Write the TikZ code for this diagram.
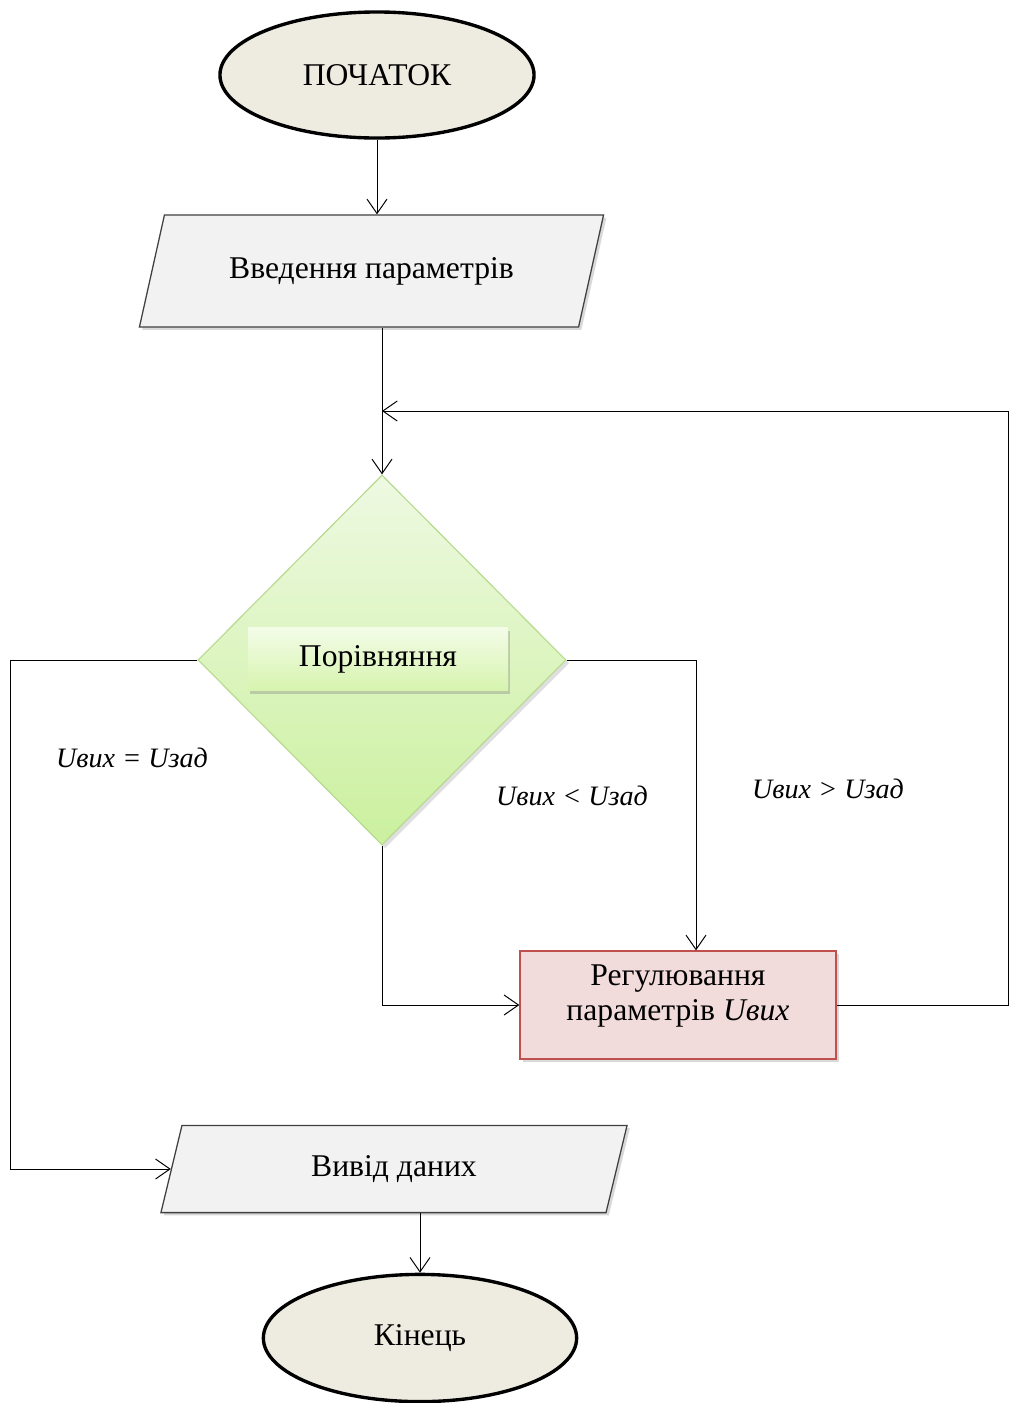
\documentclass[tikz,border=0pt]{standalone}
\usepackage{fontspec}
\setmainfont{Liberation Serif}
\usetikzlibrary{shapes.geometric,arrows.meta,shadows}
\definecolor{termfill}{HTML}{EEECE1}
\definecolor{iofill}{HTML}{F2F2F2}
\definecolor{ioline}{HTML}{404040}
\definecolor{cmptop}{HTML}{EEF9E2}
\definecolor{cmpbot}{HTML}{CBF09E}
\definecolor{cmpline}{HTML}{B5DA8E}
\definecolor{boxtop}{HTML}{F4FCE8}
\definecolor{boxbot}{HTML}{D6F4AE}
\definecolor{regfill}{HTML}{F2DCDB}
\definecolor{regline}{HTML}{C0504D}
\newcommand{\chartfont}{\fontsize{22.5}{25}\selectfont}
\tikzset{
  term/.style={ellipse, draw, line width=2.4pt, fill=termfill, font=\chartfont},
  io/.style={trapezium, trapezium stretches body=true, draw=ioline, line width=0.9pt,
    fill=iofill, font=\chartfont,
    drop shadow={opacity=0.3, shadow xshift=0.7mm, shadow yshift=-0.7mm}},
  cmp/.style={diamond, inner sep=0pt, draw=cmpline, line width=0.8pt,
    top color=cmptop, bottom color=cmpbot,
    drop shadow={opacity=0.25, shadow xshift=0.8mm, shadow yshift=-0.8mm}},
  cmpbox/.style={rectangle, top color=boxtop, bottom color=boxbot, font=\chartfont,
    drop shadow={opacity=0.35, shadow xshift=0.6mm, shadow yshift=-0.8mm}},
  act/.style={rectangle, draw=regline, line width=0.9pt, fill=regfill, align=center,
    text depth=17pt, font=\chartfont,
    drop shadow={opacity=0.3, shadow xshift=0.7mm, shadow yshift=-0.7mm}},
  cond/.style={font=\fontsize{20}{24}\selectfont\itshape},
  arr/.style={-{Straight Barb[length=3.6mm,width=5mm]}, line width=0.7pt}
}
\begin{document}
\begin{tikzpicture}[x=0.025cm, y=-0.025cm]
  \useasboundingbox (0,0) rectangle (1013,1403);
  \node[term, minimum width=7.85cm, minimum height=3.15cm] (start) at (377,75) {ПОЧАТОК};
  \node[io, trapezium left angle=56, trapezium right angle=124,
    minimum width=11.6cm, minimum height=2.8cm] (in) at (371.5,271) {Введення параметрів};
  \node[cmp, minimum width=9.2cm, minimum height=9.25cm] (dia) at (382,660) {};
  \node[cmpbox, minimum width=6.5cm, minimum height=1.58cm] (cmptxt) at (378,659) {Порівняння};
  \node[act, minimum width=7.9cm, minimum height=2.7cm] (reg) at (678,1005) {Регулювання\\параметрів \textit{Uвих}};
  \node[io, trapezium left angle=60, trapezium right angle=120,
    minimum width=11.65cm, minimum height=2.18cm] (out) at (394,1169) {Вивід даних};
  \node[term, minimum width=7.83cm, minimum height=3.18cm] (end) at (420,1338) {Кінець};
  \node[cond] (eq) at (132,758) {Uвих = Uзад};
  \node[cond] (lt) at (572,796) {Uвих < Uзад};
  \node[cond] (gt) at (828,789) {Uвих > Uзад};
  \coordinate (cl) at (10,0);
  \coordinate (cr) at (696,0);
  \coordinate (cb) at (1008,411);
  \draw[arr] (start.south) -- (start.south |- in.north);
  \draw[arr] (dia.north |- in.south) -- (dia.north);
  \draw[arr] (dia.west) -- (dia.west -| cl) |- (out.west);
  \draw[arr] (dia.east) -| (reg.north -| cr);
  \draw[arr] (dia.south) |- (reg.west);
  \draw[arr] (reg.east) -| (cb) -- (dia.north |- cb);
  \draw[arr] (end.north |- out.south) -- (end.north);
\end{tikzpicture}
\end{document}
